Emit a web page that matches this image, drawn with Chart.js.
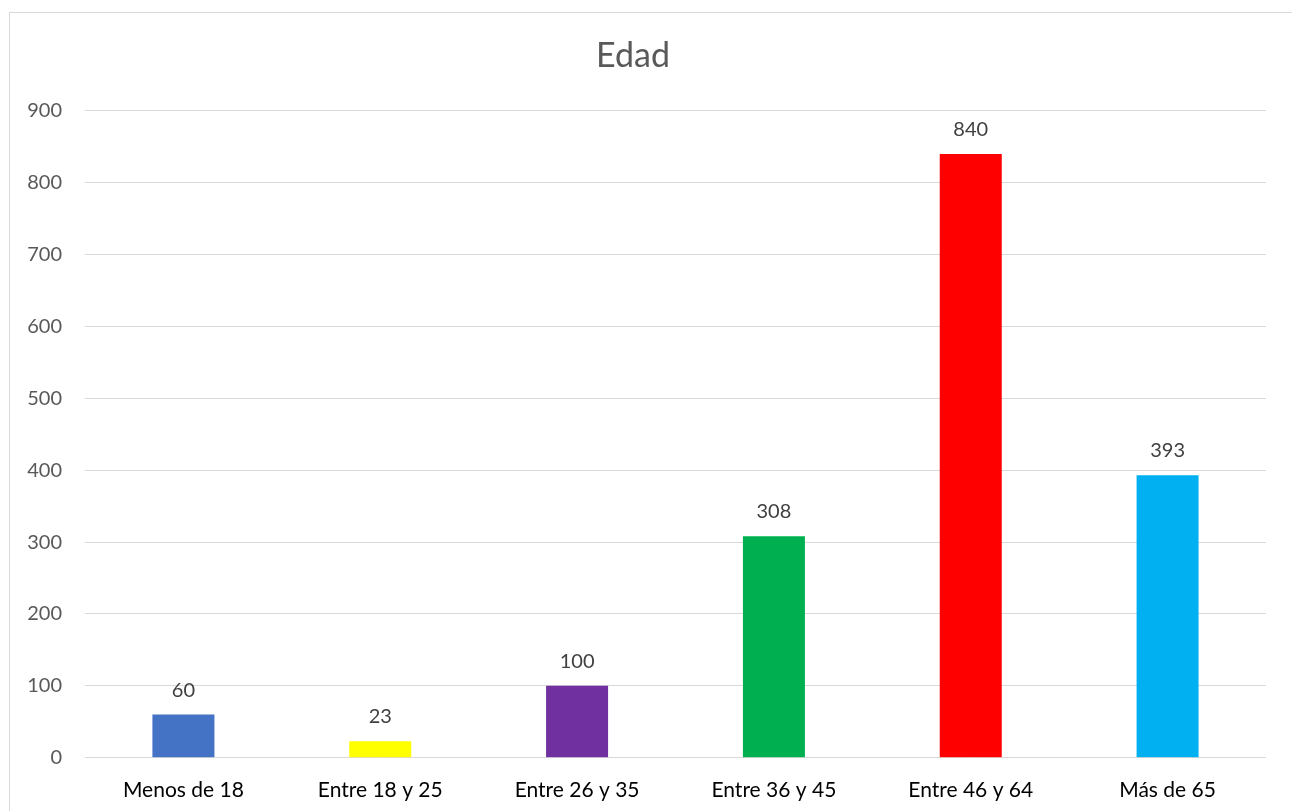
<!DOCTYPE html>
<html>
<head>
<meta charset="utf-8">
<script src="https://cdn.jsdelivr.net/npm/chart.js@4/dist/chart.umd.min.js"></script>
<style>
html,body{margin:0;padding:0;background:#fff;overflow:hidden;}
#frame{position:absolute;left:9px;top:12px;width:1320px;height:840px;border:1px solid #d9d9d9;box-sizing:border-box;}
#wrap{position:absolute;left:0;top:0;width:1292px;height:811px;}
</style>
</head>
<body>
<div id="frame"></div>
<div id="wrap"><canvas id="c" width="1292" height="811"></canvas></div>
<script>
const titleText = "Edad";
const categories = ["Menos de 18", "Entre 18 y 25", "Entre 26 y 35", "Entre 36 y 45", "Entre 46 y 64", "Más de 65"];
const values = [60, 23, 100, 308, 840, 393];
const barColors = ["#4472C4", "#FFFF00", "#7030A0", "#00B050", "#FF0000", "#00B0F0"];
const yMin = 0, yMax = 900, yStep = 100;

const FONT = "Lato, 'Open Sans', sans-serif";

const valueLabels = {
  id: 'valueLabels',
  afterDatasetsDraw(chart) {
    const ctx = chart.ctx;
    const meta = chart.getDatasetMeta(0);
    ctx.save();
    ctx.font = "20px " + FONT;
    ctx.fillStyle = "#404040";
    ctx.textAlign = "center";
    ctx.textBaseline = "alphabetic";
    meta.data.forEach((bar, i) => {
      ctx.fillText(String(values[i]), bar.x, bar.y - 18);
    });
    ctx.restore();
  }
};

new Chart(document.getElementById('c'), {
  type: 'bar',
  data: {
    labels: categories,
    datasets: [{
      data: values,
      backgroundColor: barColors,
      borderWidth: 0,
      categoryPercentage: 1.0,
      barPercentage: 0.315
    }]
  },
  options: {
    responsive: false,
    animation: false,
    devicePixelRatio: 1,
    layout: { padding: { left: 0, right: 26, top: 0, bottom: 0 } },
    plugins: {
      legend: { display: false },
      tooltip: { enabled: false },
      title: {
        display: true,
        text: titleText,
        color: "#595959",
        font: { family: FONT, size: 34, weight: 'normal' },
        padding: { top: 36, bottom: 34 }
      }
    },
    scales: {
      x: {
        grid: { display: false, drawTicks: false },
        border: { display: false },
        ticks: { color: "#000000", font: { family: FONT, size: 21 }, padding: 20, maxRotation: 0 },
        afterFit(scale) { scale.height = 53.3; }
      },
      y: {
        min: yMin, max: yMax,
        grid: { color: "#d9d9d9", lineWidth: 1, drawTicks: false },
        border: { display: false },
        ticks: { stepSize: yStep, color: "#595959", font: { family: FONT, size: 20 }, padding: 23 },
        afterFit(scale) { scale.width = 85; }
      }
    }
  },
  plugins: [valueLabels]
});
</script>
</body>
</html>
